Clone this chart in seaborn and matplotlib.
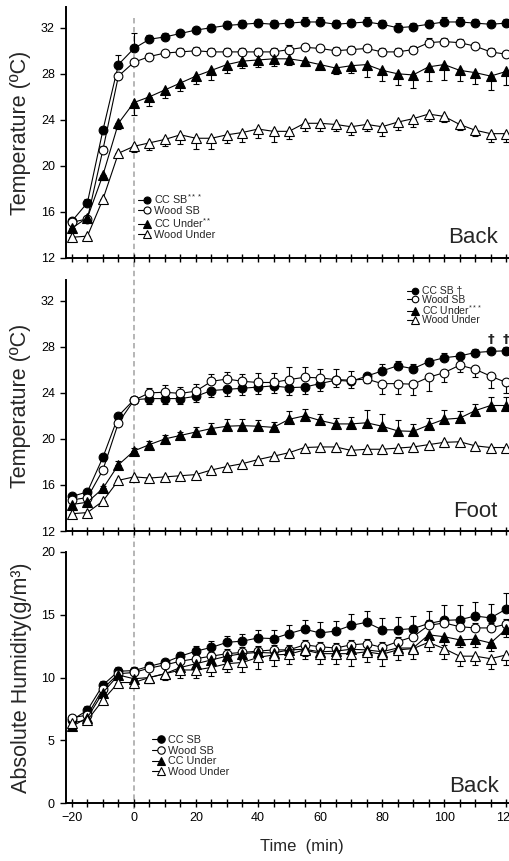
import numpy as np
import matplotlib
matplotlib.use("Agg")
import matplotlib.pyplot as plt
import seaborn as sns
from matplotlib.lines import Line2D
from matplotlib.legend_handler import HandlerLine2D
from matplotlib.transforms import blended_transform_factory

# ---------------- data ----------------
time = [-20, -15, -10, -5, 0, 5, 10, 15, 20, 25, 30, 35, 40, 45, 50, 55, 60,
        65, 70, 75, 80, 85, 90, 95, 100, 105, 110, 115, 120]

# Back temperature
cc_sb_back = [15.2, 16.8, 23.1, 28.8, 30.2, 31.0, 31.2, 31.5, 31.8, 32.0, 32.2, 32.3,
              32.4, 32.3, 32.4, 32.5, 32.5, 32.3, 32.4, 32.5, 32.3, 32.0, 32.1, 32.3,
              32.5, 32.5, 32.4, 32.3, 32.4]
cc_sb_back_hi = [0.2, 0.3, 0.3, 0.8, 1.3, 0.4, 0.3, 0.3, 0.3, 0.3, 0.4, 0.4, 0.4, 0.4,
                 0.4, 0.4, 0.4, 0.4, 0.4, 0.4, 0.4, 0.4, 0.3, 0.4, 0.4, 0.4, 0.4, 0.4, 0.4]
wood_sb_back = [15.1, 15.4, 21.4, 27.8, 29.0, 29.5, 29.8, 29.9, 30.0, 29.9, 29.9, 29.9,
                29.9, 29.9, 30.1, 30.3, 30.2, 30.0, 30.1, 30.2, 29.9, 29.9, 30.1, 30.7,
                30.8, 30.7, 30.4, 29.9, 29.7]
wood_sb_back_hi = [0.2, 0.2, 0.3, 0.3, 0.3, 0.3, 0.3, 0.3, 0.3, 0.3, 0.3, 0.3, 0.3, 0.3,
                   0.4, 0.3, 0.3, 0.3, 0.3, 0.3, 0.3, 0.3, 0.3, 0.4, 0.3, 0.3, 0.3, 0.3, 0.3]
cc_under_back = [14.6, 15.5, 19.2, 23.7, 25.5, 26.0, 26.6, 27.2, 27.8, 28.3, 28.8, 29.1,
                 29.2, 29.3, 29.3, 29.1, 28.8, 28.5, 28.7, 28.8, 28.3, 28.0, 27.9, 28.6,
                 28.8, 28.3, 28.1, 27.8, 28.2]
cc_under_back_lo = [0.3, 0.3, 0.4, 0.5, 1.1, 0.8, 0.7, 0.7, 0.7, 0.8, 0.7, 0.6, 0.6, 0.6,
                    0.5, 0.4, 0.4, 0.5, 0.6, 1.1, 0.9, 0.95, 1.1, 1.2, 1.3, 0.9, 1.0, 1.2, 1.2]
wood_under_back = [13.8, 13.9, 17.1, 21.1, 21.7, 22.0, 22.3, 22.7, 22.4, 22.4, 22.7, 22.9,
                   23.2, 23.0, 23.0, 23.7, 23.7, 23.6, 23.4, 23.6, 23.4, 23.8, 24.1, 24.5,
                   24.3, 23.6, 23.1, 22.8, 22.8]
wood_under_back_lo = [0.2, 0.2, 0.3, 0.3, 0.5, 0.6, 0.6, 0.8, 0.9, 0.9, 0.7, 0.8, 0.8, 0.9,
                      0.7, 0.7, 0.7, 0.6, 0.7, 0.6, 0.8, 0.7, 0.7, 0.6, 0.5, 0.5, 0.5, 0.7, 0.7]

# Foot temperature
cc_sb_foot = [15.0, 15.4, 18.4, 22.0, 23.4, 23.5, 23.5, 23.5, 23.7, 24.2, 24.3, 24.4,
              24.5, 24.6, 24.45, 24.5, 24.8, 25.1, 25.0, 25.45, 25.9, 26.35, 26.1, 26.7,
              27.05, 27.2, 27.5, 27.6, 27.65]
cc_sb_foot_lo = [0.2, 0.2, 0.3, 0.3, 0.3, 0.5, 0.5, 0.5, 0.5, 0.6, 0.6, 0.6, 0.6, 0.6,
                 0.6, 0.6, 0.6, 0.6, 0.6, 0.6, 0, 0, 0, 0, 0, 0, 0, 0, 0]
cc_sb_foot_hi = [0, 0, 0, 0, 0, 0, 0, 0, 0, 0, 0, 0, 0, 0, 0, 0, 0, 0, 0, 0,
                 0.6, 0.45, 0.4, 0.35, 0.4, 0.3, 0.3, 0.3, 0.3]
wood_sb_foot = [14.7, 14.9, 17.3, 21.4, 23.35, 24.0, 24.05, 23.95, 24.15, 25.0, 25.2, 25.0,
                24.9, 24.9, 25.15, 25.35, 25.3, 25.15, 25.1, 25.2, 24.8, 24.8, 24.75, 25.35,
                25.75, 26.4, 26.05, 25.45, 24.9]
wood_sb_foot_hi = [0.2, 0.2, 0.3, 0.3, 0.3, 0.4, 0.6, 0.6, 0.6, 0.6, 0.6, 0.6, 0.8, 0.8,
                   1.1, 0.9, 0.8, 0.9, 0.8, 0.4, 0, 0, 0, 0, 0, 0, 0, 0, 0]
wood_sb_foot_lo = [0, 0, 0, 0, 0, 0, 0, 0, 0, 0, 0, 0, 0, 0, 0, 0, 0, 0, 0, 0,
                   0.9, 0.9, 0.9, 1.2, 0.8, 0.6, 0.7, 1.0, 0.9]
cc_under_foot = [14.3, 14.5, 15.7, 17.75, 18.95, 19.5, 20.0, 20.3, 20.6, 20.9, 21.1, 21.15,
                 21.1, 21.0, 21.7, 22.0, 21.6, 21.3, 21.3, 21.4, 21.1, 20.7, 20.65, 21.2,
                 21.7, 21.8, 22.45, 22.9, 22.9]
cc_under_foot_hi = [0.2, 0.2, 0.2, 0.3, 0.3, 0.3, 0.3, 0.3, 0.4, 0.5, 0.6, 0.6, 0.5, 0.5,
                    0.7, 0.6, 0.6, 0.5, 0.6, 1.1, 1.1, 0.9, 0.6, 0.6, 0.8, 0.65, 0.6, 0.7, 0.7]
wood_under_foot = [13.5, 13.6, 14.6, 16.4, 16.7, 16.6, 16.7, 16.8, 16.9, 17.3, 17.6, 17.85,
                   18.2, 18.5, 18.8, 19.25, 19.3, 19.3, 19.0, 19.1, 19.1, 19.2, 19.3, 19.5,
                   19.7, 19.75, 19.4, 19.25, 19.25]
wood_under_foot_lo = [0.2, 0.2, 0.2, 0.2, 0.2, 0.2, 0.2, 0.2, 0.2, 0.2, 0.3, 0.3, 0.3, 0.4,
                      0.4, 0.4, 0.4, 0.4, 0.4, 0.4, 0.4, 0.4, 0.4, 0.4, 0.4, 0.4, 0.4, 0.4, 0.4]

# Absolute humidity (back)
cc_sb_ah = [6.6, 7.4, 9.4, 10.5, 10.55, 10.9, 11.2, 11.7, 12.1, 12.4, 12.8, 12.9,
            13.15, 13.1, 13.5, 13.85, 13.55, 13.7, 14.15, 14.4, 13.8, 13.8, 13.9, 14.3,
            14.55, 14.6, 14.9, 14.75, 15.45]
cc_sb_ah_hi = [0.2, 0.3, 0.3, 0.3, 0.3, 0.3, 0.3, 0.3, 0.4, 0.5, 0.5, 0.6, 0.66, 0.66,
               0.66, 0.77, 0.88, 0.82, 0.88, 0.93, 0.93, 1.0, 0.98, 1.0, 1.2, 1.14, 1.1, 1.14, 1.25]
wood_sb_ah = [6.8, 7.0, 9.1, 10.3, 10.4, 10.75, 11.0, 11.3, 11.5, 11.7, 11.9, 12.0,
              12.1, 12.2, 12.2, 12.6, 12.45, 12.35, 12.6, 12.7, 12.4, 12.85, 13.25, 14.15,
              14.35, 14.05, 13.95, 13.95, 14.25]
wood_sb_ah_hi = [0.2, 0.2, 0.2, 0.3, 0.3, 0.3, 0.3, 0.3, 0.3, 0.3, 0.4, 0.4, 0.4, 0.4,
                 0.4, 0.4, 0.4, 0.4, 0.4, 0.4, 0.4, 0.4, 0.4, 0.4, 0.4, 0.4, 0.4, 0.4, 0.4]
cc_under_ah = [6.1, 6.8, 8.8, 10.2, 9.9, 10.0, 10.3, 10.8, 11.1, 11.4, 11.7, 11.9,
               12.0, 11.95, 12.2, 12.25, 12.05, 12.1, 12.25, 12.2, 12.05, 12.35, 12.35, 13.4,
               13.25, 13.0, 13.05, 12.75, 13.85]
cc_under_ah_lo = [0.2, 0.2, 0.3, 0.3, 0.3, 0.3, 0.3, 0.4, 0.4, 0.4, 0.5, 0.5, 0.5, 0.5,
                  0.5, 0.5, 0.5, 0.5, 0.5, 0.5, 0.6, 0.5, 0.5, 0.7, 0.7, 0.6, 0.6, 0.6, 0.6]
wood_under_ah = [6.4, 6.6, 8.2, 9.6, 9.6, 10.0, 10.3, 10.6, 10.6, 10.8, 11.1, 11.2,
                 11.6, 11.8, 11.85, 12.2, 11.9, 11.9, 11.9, 12.05, 11.85, 12.2, 12.3, 12.8,
                 12.3, 11.7, 11.7, 11.5, 11.8]
wood_under_ah_lo = [0.2, 0.2, 0.3, 0.3, 0.3, 0.4, 0.5, 0.6, 0.6, 0.7, 0.7, 0.8, 0.9, 0.9,
                    0.8, 0.7, 0.8, 0.8, 1.0, 0.8, 0.9, 0.8, 0.8, 0.7, 0.8, 0.8, 0.7, 0.8, 0.8]

labels_back = ["CC SB$^{***}$", "Wood SB", "CC Under$^{**}$", "Wood Under"]
labels_foot = ["CC SB \u2020", "Wood SB", "CC Under$^{***}$", "Wood Under"]
labels_ah = ["CC SB", "Wood SB", "CC Under", "Wood Under"]

# ---------------- style ----------------
sns.set_style("ticks")
plt.rcParams["font.family"] = ["Liberation Sans", "DejaVu Sans"]
plt.rcParams["mathtext.fontset"] = "custom"
plt.rcParams["mathtext.rm"] = "Liberation Sans"
plt.rcParams["mathtext.it"] = "Liberation Sans:italic"
plt.rcParams["mathtext.bf"] = "Liberation Sans:bold"

W, H = 509, 861
fig = plt.figure(figsize=(W / 100, H / 100), dpi=100)
L, R = 66, 508
ax1 = fig.add_axes([L / W, 1 - 258 / H, (R - L) / W, 251 / H])
ax2 = fig.add_axes([L / W, 1 - 531 / H, (R - L) / W, 251 / H])
ax3 = fig.add_axes([L / W, 1 - 803 / H, (R - L) / W, 251 / H])
for ax in (ax1, ax2, ax3):
    ax.patch.set_facecolor("none")

STY = [("o", "black", 6.3), ("o", "white", 6.3), ("^", "black", 6.9), ("^", "white", 6.9)]


def draw(ax, y, lo, hi, k):
    m, fc, ms = STY[k]
    ax.errorbar(time, y, yerr=[lo, hi], fmt="none", ecolor="black", elinewidth=0.8,
                capsize=2.2, capthick=0.8, zorder=2)
    sns.lineplot(x=time, y=y, ax=ax, color="black", lw=0.8, marker=m, markersize=ms,
                 markerfacecolor=fc, markeredgecolor="black", markeredgewidth=0.8,
                 zorder=3 + k * 0.1, legend=False)


zeros = [0] * len(time)
draw(ax1, wood_under_back, wood_under_back_lo, zeros, 3)
draw(ax1, cc_under_back, cc_under_back_lo, zeros, 2)
draw(ax1, wood_sb_back, zeros, wood_sb_back_hi, 1)
draw(ax1, cc_sb_back, zeros, cc_sb_back_hi, 0)

draw(ax2, wood_under_foot, wood_under_foot_lo, zeros, 3)
draw(ax2, cc_under_foot, zeros, cc_under_foot_hi, 2)
draw(ax2, cc_sb_foot, cc_sb_foot_lo, cc_sb_foot_hi, 0)
draw(ax2, wood_sb_foot, wood_sb_foot_lo, wood_sb_foot_hi, 1)

draw(ax3, wood_under_ah, wood_under_ah_lo, zeros, 3)
draw(ax3, cc_under_ah, cc_under_ah_lo, zeros, 2)
draw(ax3, wood_sb_ah, zeros, wood_sb_ah_hi, 1)
draw(ax3, cc_sb_ah, zeros, cc_sb_ah_hi, 0)

# daggers above the last two CC SB foot points
for t in (115, 120):
    i = time.index(t)
    ax2.text(t, cc_sb_foot[i] + 0.45, "\u2020", ha="center", va="bottom", fontsize=9.5,
             fontweight="bold", family=["DejaVu Sans"])


class LeftLineHandler(HandlerLine2D):
    def create_artists(self, legend, orig_handle, xdescent, ydescent, width, height,
                       fontsize, trans):
        y = (height - ydescent) / 2.0
        x0, x1 = -xdescent, -xdescent + width
        line = Line2D([x0, x1 - 3], [y, y])
        self.update_prop(line, orig_handle, legend)
        line.set_marker("None")
        mk = Line2D([x1 - 3], [y])
        self.update_prop(mk, orig_handle, legend)
        mk.set_linestyle("None")
        line.set_transform(trans)
        mk.set_transform(trans)
        return [line, mk]


def handles(ms_scale):
    hs = []
    for m, fc, ms in STY:
        hs.append(Line2D([], [], color="black", lw=0.8, marker=m, markersize=ms * ms_scale,
                         markerfacecolor=fc, markeredgecolor="black", markeredgewidth=0.8))
    return hs


def add_legend(ax, labels, anchor, fs, spacing, scale):
    hs = handles(scale)
    ax.legend(hs, labels, loc="upper left", bbox_to_anchor=anchor, frameon=False,
              fontsize=fs, handlelength=1.2, handletextpad=0.25, labelspacing=spacing,
              borderaxespad=0, borderpad=0,
              handler_map={h: LeftLineHandler() for h in hs})


add_legend(ax1, labels_back, (0.163, 0.262), 7.8, 0.0, 0.8)
add_legend(ax2, labels_foot, (0.771, 0.975), 7.5, -0.15, 0.75)
add_legend(ax3, labels_ah, (0.195, 0.27), 7.8, 0.05, 0.85)

for ax in (ax1, ax2, ax3):
    sns.despine(ax=ax)
    ax.set_xlim(-21.9, 120.6)
    ax.set_xticks([-20, 0, 20, 40, 60, 80, 100, 120])
    ax.set_xticks(np.arange(-20, 121, 5), minor=True)
    ax.tick_params(axis="x", which="both", direction="inout", length=6, width=1.0,
                   colors="black", labelsize=9)
    ax.tick_params(axis="y", which="major", direction="out", length=4, width=1.0,
                   colors="black", labelsize=9, pad=4)
    for s in ("left", "bottom"):
        ax.spines[s].set_linewidth(1.4)
        ax.spines[s].set_color("black")
    ax.set_xlabel("")
    ax.set_ylabel("")

for ax in (ax1, ax2):
    ax.set_ylim(12, 33.8)
    ax.set_yticks([12, 16, 20, 24, 28, 32])
    ax.tick_params(axis="x", labelbottom=False)
    ax.set_ylabel("Temperature (\u00baC)", fontsize=15.5)
    ax.yaxis.set_label_coords(-0.08, 0.5)

ax3.set_ylim(0, 20)
ax3.set_yticks([0, 5, 10, 15, 20])
ax3.set_ylabel("Absolute Humidity(g/m\u00b3)", fontsize=15.5)
ax3.yaxis.set_label_coords(-0.077, 0.5)
ax3.set_xlabel("Time  (min)", fontsize=12)
ax3.xaxis.set_label_coords(0.534, -0.145)

ax1.text(0.977, 0.06, "Back", transform=ax1.transAxes, ha="right", va="baseline", fontsize=16)
ax2.text(0.977, 0.056, "Foot", transform=ax2.transAxes, ha="right", va="baseline", fontsize=16)
ax3.text(0.98, 0.044, "Back", transform=ax3.transAxes, ha="right", va="baseline", fontsize=16)

# vertical dashed line at time 0 across all panels
tr = blended_transform_factory(ax3.transData, fig.transFigure)
fig.add_artist(Line2D([0, 0], [1 - 18 / H, 1 - 810 / H], transform=tr, color="#b0b0b0",
                      lw=1.3, ls=(0, (3, 2)), zorder=-1))

fig.savefig("out.png", dpi=100)
